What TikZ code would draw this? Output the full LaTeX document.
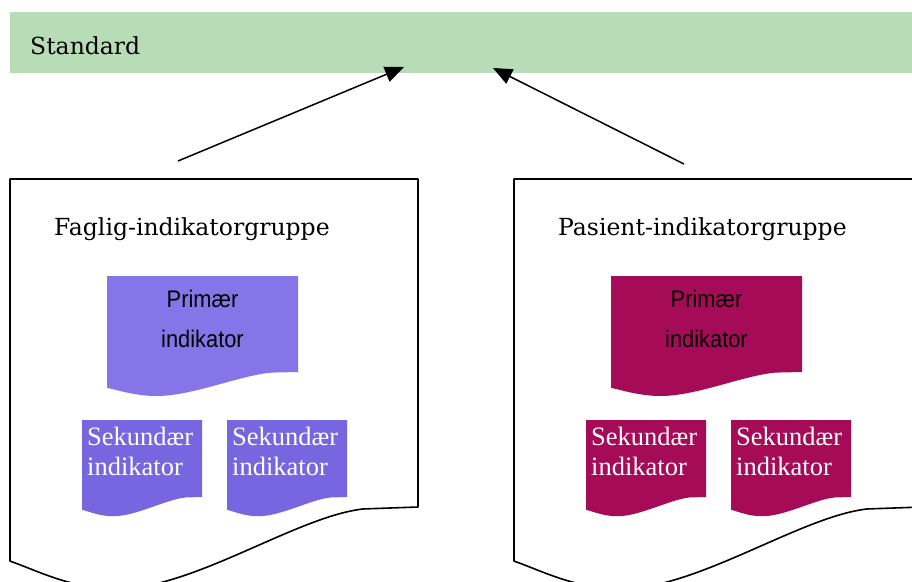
\documentclass[tikz,border=0pt]{standalone}
\usepackage{fontspec}
\newfontfamily\arialfont[FakeStretch=0.91]{Liberation Sans}
\newfontfamily\timesfont{Liberation Serif}
\newfontfamily\headfont{DejaVu Serif}
\usetikzlibrary{arrows.meta}

\definecolor{stdgreen}{HTML}{B8DDB6}
\definecolor{fagprim}{HTML}{8575E8}
\definecolor{fagsec}{HTML}{7866E0}
\definecolor{pasfill}{HTML}{A60B57}

\tikzset{
  outline/.style={draw=black, line width=1.6pt, fill=white, line join=round},
  conn/.style={line width=1.5pt, -{Triangle[length=19pt,width=16pt]}},
  headlabel/.style={anchor=base west, inner sep=0pt,
    font=\headfont\fontsize{23.5}{28}\selectfont},
  primlabel/.style={anchor=base, align=center, inner sep=0pt,
    font=\arialfont\fontsize{24}{40}\selectfont},
  seclabel/.style={anchor=base west, align=left, inner sep=0pt, text=white,
    font=\timesfont\fontsize{26.5}{30}\selectfont},
}

% Document symbol with a wavy lower edge: #1 style, #2,#3 top-left corner,
% #4 width, #5 height of the straight right side
\newcommand\docshape[5]{%
  \begin{scope}[shift={(#2,#3)}, xscale=#4, yscale=#5]
    \path[#1] (0,0) -- (1,0) -- (1,1) -- (0.865,1.006)
      .. controls (0.7,1.03) and (0.45,1.25) .. (0.26,1.25)
      .. controls (0.15,1.25) and (0.06,1.19) .. (0,1.165) -- cycle;
  \end{scope}}

\begin{document}
\begin{tikzpicture}[x=1pt, y=-1pt]
  \clip (0,0) rectangle (912,581);

  % standard bar
  \node[fill=stdgreen, minimum width=902pt, minimum height=61pt,
        anchor=north west, inner sep=0pt] (std) at (10,12) {};
  \node[headlabel] (stdtext) at (30,54.5) {Standard};

  % group outlines
  \docshape{outline}{10}{179}{408}{328}
  \docshape{outline}{514}{179}{408}{328}

  \node[headlabel] (faglig) at (54,235) {Faglig-indikatorgruppe};
  \node[headlabel] (pasient) at (558,235) {Pasient-indikatorgruppe};

  % professional group indicators
  \docshape{fill=fagprim}{107}{276}{191}{96}
  \docshape{fill=fagsec}{82}{420}{120}{77}
  \docshape{fill=fagsec}{227}{420}{120}{77}
  \node[primlabel] (fprim) at (202.5,347) {Primær\\indikator};
  \node[seclabel] (fsec1) at (87,475) {Sekundær\\indikator};
  \node[seclabel] (fsec2) at (232,475) {Sekundær\\indikator};

  % patient group indicators
  \docshape{fill=pasfill}{611}{276}{191}{96}
  \docshape{fill=pasfill}{586}{420}{120}{77}
  \docshape{fill=pasfill}{731}{420}{120}{77}
  \node[primlabel] (pprim) at (706.5,347) {Primær\\indikator};
  \node[seclabel] (psec1) at (591,475) {Sekundær\\indikator};
  \node[seclabel] (psec2) at (736,475) {Sekundær\\indikator};

  % connectors up to the standard
  \coordinate (fagfrom) at (178,161);
  \coordinate (fagto) at (404,67);
  \coordinate (pasfrom) at (684,164);
  \coordinate (pasto) at (493,68);
  \draw[conn] (fagfrom) -- (fagto);
  \draw[conn] (pasfrom) -- (pasto);
\end{tikzpicture}
\end{document}
